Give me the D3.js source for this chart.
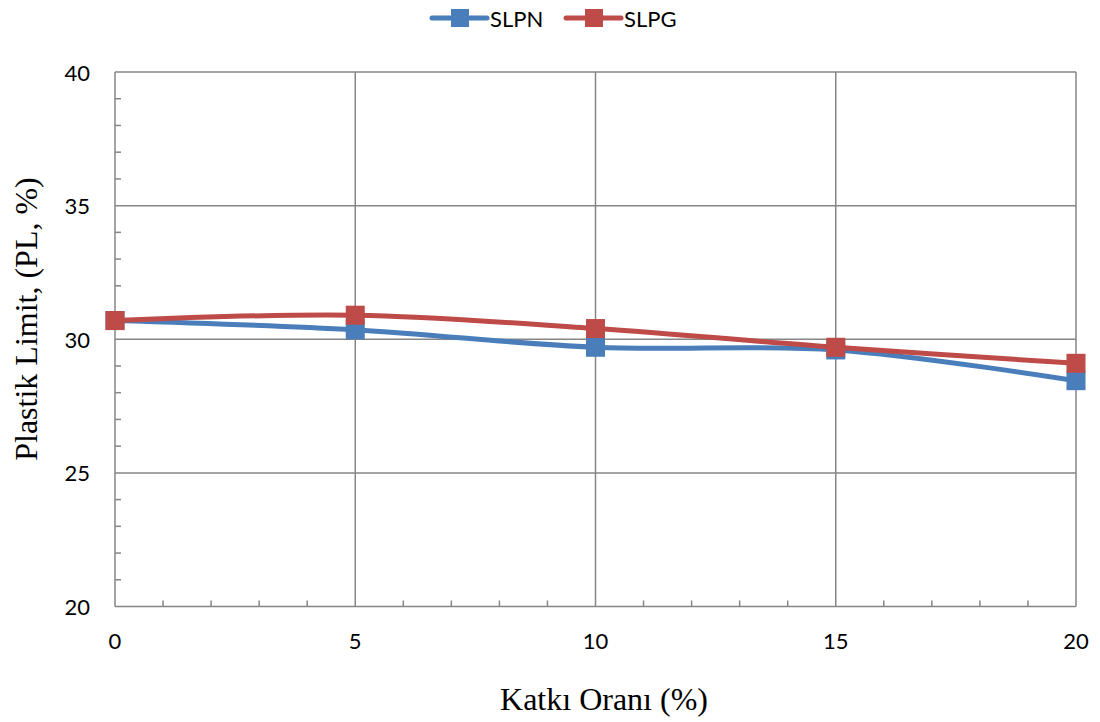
<!DOCTYPE html>
<html>
<head>
<meta charset="utf-8">
<script src="https://cdn.jsdelivr.net/npm/d3@7"></script>
<style>
  html, body { margin: 0; padding: 0; background: #fff; }
  svg { display: block; }
</style>
</head>
<body>
<svg id="chart" width="1100" height="722"></svg>
<script>
// Additive ratio (%) on the x axis
const ratios = [0, 5, 10, 15, 20];
// Plastic limit values for each mix
const slpn = [30.7, 30.35, 29.7, 29.6, 28.45];
const slpg = [30.7, 30.9, 30.4, 29.7, 29.1];
const seriesNames = ["SLPN", "SLPG"];
const seriesColors = ["#4A7EBB", "#BE4B48"];
const xTicks = [0, 5, 10, 15, 20];
const yTicks = [20, 25, 30, 35, 40];

const svg = d3.select("#chart");
const plotLeft = 115, plotRight = 1076, plotTop = 72, plotBottom = 606.5;

const x = d3.scaleLinear().domain([0, 20]).range([plotLeft, plotRight]);
const y = d3.scaleLinear().domain([20, 40]).range([plotBottom, plotTop]);

const gridColor = "#868686";

// Major grid lines
svg.append("g").selectAll("line").data(yTicks).join("line")
  .attr("x1", plotLeft).attr("x2", plotRight)
  .attr("y1", d => y(d)).attr("y2", d => y(d))
  .attr("stroke", gridColor).attr("stroke-width", 1.5);
svg.append("g").selectAll("line").data(xTicks).join("line")
  .attr("x1", d => x(d)).attr("x2", d => x(d))
  .attr("y1", plotTop).attr("y2", plotBottom)
  .attr("stroke", gridColor).attr("stroke-width", 1.5);

// Minor ticks pointing into the plot
const yMinor = d3.range(21, 40).filter(v => v % 5 !== 0);
svg.append("g").selectAll("line").data(yMinor).join("line")
  .attr("x1", plotLeft).attr("x2", plotLeft + 6)
  .attr("y1", d => y(d)).attr("y2", d => y(d))
  .attr("stroke", gridColor).attr("stroke-width", 1.5);
const xMinor = d3.range(1, 20).filter(v => v % 5 !== 0);
svg.append("g").selectAll("line").data(xMinor).join("line")
  .attr("x1", d => x(d)).attr("x2", d => x(d))
  .attr("y1", plotBottom).attr("y2", plotBottom - 6)
  .attr("stroke", gridColor).attr("stroke-width", 1.5);

// Tick labels
const tickFont = "Lato, 'Open Sans', sans-serif";
svg.append("g").selectAll("text").data(yTicks).join("text")
  .attr("x", 90).attr("y", d => y(d) + 8.5)
  .attr("text-anchor", "end")
  .attr("font-family", tickFont).attr("font-size", 22).attr("fill", "#000")
  .text(d => d);
svg.append("g").selectAll("text").data(xTicks).join("text")
  .attr("x", d => x(d)).attr("y", 649)
  .attr("text-anchor", "middle")
  .attr("font-family", tickFont).attr("font-size", 22).attr("fill", "#000")
  .text(d => d);

// Axis titles
const titleFont = "'Liberation Serif', 'Times New Roman', serif";
svg.append("text")
  .attr("x", 604).attr("y", 710)
  .attr("text-anchor", "middle")
  .attr("font-family", titleFont).attr("font-size", 32).attr("fill", "#000")
  .text("Katkı Oranı (%)");
svg.append("text")
  .attr("transform", "translate(37,319) rotate(-90)")
  .attr("text-anchor", "middle")
  .attr("font-family", titleFont).attr("font-size", 32).attr("fill", "#000")
  .text("Plastik Limit, (PL, %)");

// Smoothed series lines with square markers
const series = [slpn, slpg];
const line = d3.line()
  .x((d, i) => x(ratios[i]))
  .y(d => y(d))
  .curve(d3.curveCatmullRom.alpha(0.5));
const markerSize = 19;

series.forEach((vals, si) => {
  const g = svg.append("g");
  g.append("path").datum(vals)
    .attr("d", line)
    .attr("fill", "none")
    .attr("stroke", seriesColors[si])
    .attr("stroke-width", 5)
    .attr("stroke-linejoin", "round")
    .attr("stroke-linecap", "round");
  g.selectAll("rect").data(vals).join("rect")
    .attr("x", (d, i) => x(ratios[i]) - markerSize / 2)
    .attr("y", d => y(d) - markerSize / 2)
    .attr("width", markerSize).attr("height", markerSize)
    .attr("fill", seriesColors[si]);
});

// Legend
const legendItems = [{ x0: 432, tx: 490 }, { x0: 566, tx: 624 }];
seriesNames.forEach((name, i) => {
  const it = legendItems[i];
  const lg = svg.append("g");
  lg.append("line")
    .attr("x1", it.x0).attr("x2", it.x0 + 55)
    .attr("y1", 18).attr("y2", 18)
    .attr("stroke", seriesColors[i]).attr("stroke-width", 5)
    .attr("stroke-linecap", "round");
  lg.append("rect")
    .attr("x", it.x0 + 28 - 9).attr("y", 18 - 9)
    .attr("width", 18).attr("height", 18)
    .attr("fill", seriesColors[i]);
  lg.append("text")
    .attr("x", it.tx).attr("y", 27)
    .attr("font-family", tickFont).attr("font-size", 22).attr("fill", "#000")
    .text(name);
});
</script>
</body>
</html>
